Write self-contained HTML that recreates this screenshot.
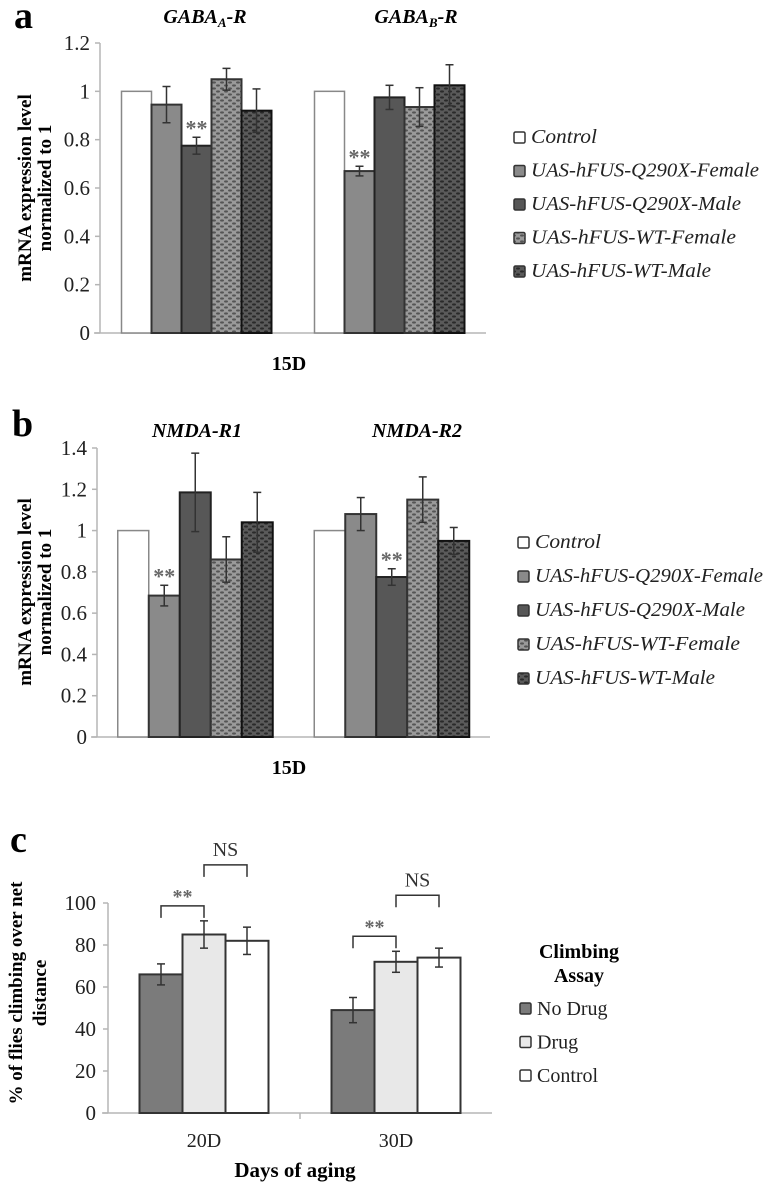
<!DOCTYPE html>
<html><head><meta charset="utf-8">
<style>
html,body{margin:0;padding:0;background:#fff;}
svg{display:block;font-family:"Liberation Serif",serif;}
</style></head>
<body>
<svg id="fig" width="774" height="1186" viewBox="0 0 774 1186" xmlns="http://www.w3.org/2000/svg">
<defs>
<pattern id="dotL" width="8" height="6" patternUnits="userSpaceOnUse">
<rect width="8" height="6" fill="#9a9a9a"/>
<ellipse cx="2" cy="1.5" rx="2" ry="1.1" fill="#555"/>
<ellipse cx="6" cy="4.5" rx="2" ry="1.1" fill="#555"/>
</pattern>
<pattern id="dotD" width="8" height="6" patternUnits="userSpaceOnUse">
<rect width="8" height="6" fill="#5a5a5a"/>
<ellipse cx="2" cy="1.5" rx="2" ry="1.1" fill="#2a2a2a"/>
<ellipse cx="6" cy="4.5" rx="2" ry="1.1" fill="#2a2a2a"/>
</pattern>
</defs>
<g id="layer"></g>
</svg>
<script>
// ---- Panel a data ----
const aCategories = ["GABA_A-R", "GABA_B-R"];
const aControl = [1.0, 1.0];
const aQFemale = [0.945, 0.67];
const aQMale = [0.775, 0.975];
const aWTFemale = [1.05, 0.935];
const aWTMale = [0.92, 1.025];
const aErrControl = [0, 0];
const aErrQFemale = [0.075, 0.02];
const aErrQMale = [0.035, 0.05];
const aErrWTFemale = [0.045, 0.08];
const aErrWTMale = [0.09, 0.085];
const aTicks = ["0", "0.2", "0.4", "0.6", "0.8", "1", "1.2"];
// ---- Panel b data ----
const bCategories = ["NMDA-R1", "NMDA-R2"];
const bControl = [1.0, 1.0];
const bQFemale = [0.685, 1.08];
const bQMale = [1.185, 0.775];
const bWTFemale = [0.86, 1.15];
const bWTMale = [1.04, 0.95];
const bErrControl = [0, 0];
const bErrQFemale = [0.05, 0.08];
const bErrQMale = [0.19, 0.04];
const bErrWTFemale = [0.11, 0.11];
const bErrWTMale = [0.145, 0.065];
const bTicks = ["0", "0.2", "0.4", "0.6", "0.8", "1", "1.2", "1.4"];
// ---- Panel c data ----
const cCategories = ["20D", "30D"];
const cNoDrug = [66, 49];
const cDrug = [85, 72];
const cCtrl = [82, 74];
const cErrNoDrug = [5, 6];
const cErrDrug = [6.5, 5];
const cErrCtrl = [6.5, 4.5];
const cTicks = ["0", "20", "40", "60", "80", "100"];

const NS = "http://www.w3.org/2000/svg";
const layer = document.getElementById("layer");
function mk(tag, attrs, parent) {
  const e = document.createElementNS(NS, tag);
  for (const k in attrs) e.setAttribute(k, attrs[k]);
  (parent || layer).appendChild(e);
  return e;
}
function txt(s, attrs, parent) { const t = mk("text", attrs, parent); t.textContent = s; return t; }

const fills5 = [
  {fill: "#fff", stroke: "#888"},
  {fill: "#8a8a8a", stroke: "#333"},
  {fill: "#575757", stroke: "#222"},
  {fill: "url(#dotL)", stroke: "#333"},
  {fill: "url(#dotD)", stroke: "#111"}
];

function panel5(cfg) {
  const g = mk("g", {});
  
  
  const y = v => cfg.y0 - (v / cfg.vmax) * (cfg.y0 - cfg.yTop);
  // axes
  const ax = mk("line", {x1: cfg.ax, y1: cfg.yTop, x2: cfg.ax, y2: cfg.y0, stroke: "#b5b5b5", "stroke-width": 1.5}, g);
  
  
  const xa = mk("line", {x1: cfg.ax - 6, y1: cfg.y0, x2: cfg.axEnd, y2: cfg.y0, stroke: "#b5b5b5", "stroke-width": 1.5}, g);
  
  
  cfg.ticks.forEach(t => {
    const yy = y(parseFloat(t));
    mk("line", {x1: cfg.ax - 5, y1: yy, x2: cfg.ax, y2: yy, stroke: "#b5b5b5", "stroke-width": 1.5}, g);
    const tl = txt(t, {x: cfg.ax - 10, y: yy + 7, "text-anchor": "end", "font-size": 21, fill: "#222"}, g);
    
    
  });
  const catW = (cfg.axEnd - cfg.ax) / cfg.categories.length;
  cfg.categories.forEach((c, ci) => {
    const center = cfg.ax + catW * (ci + 0.5);
    const start = center - cfg.bw * cfg.series.length / 2;
    cfg.series.forEach((s, si) => {
      const v = s[ci], e = cfg.errs[si][ci];
      const x = start + si * cfg.bw;
      const r = mk("rect", {x: x, y: y(v), width: cfg.bw, height: cfg.y0 - y(v), fill: fills5[si].fill, stroke: fills5[si].stroke, "stroke-width": si === 0 ? 1.5 : 2}, g);
      
      
      if (e > 0) {
        const cx = x + cfg.bw / 2;
        mk("line", {x1: cx, y1: y(v + e), x2: cx, y2: y(v - e), stroke: "#333", "stroke-width": 1.5}, g);
        mk("line", {x1: cx - 4, y1: y(v + e), x2: cx + 4, y2: y(v + e), stroke: "#333", "stroke-width": 1.5}, g);
        mk("line", {x1: cx - 4, y1: y(v - e), x2: cx + 4, y2: y(v - e), stroke: "#333", "stroke-width": 1.5}, g);
        if (cfg.sig[ci] === si) {
          const st = txt("**", {x: cx, y: y(v + e) - 2, "text-anchor": "middle", "font-size": 22, "font-weight": "bold", fill: "#666"}, g);
          
          
        }
      }
    });
  });
}

// Panel a
txt("a", {x: 14, y: 28, "font-size": 38, "font-weight": "bold"});
const ta = mk("text", {x: 205, y: 23, "text-anchor": "middle", "font-size": 20, "font-weight": "bold", "font-style": "italic"});
ta.innerHTML = 'GABA<tspan font-size="13" dy="4">A</tspan><tspan dy="-4">-R</tspan>';

const tb = mk("text", {x: 416, y: 23, "text-anchor": "middle", "font-size": 20, "font-weight": "bold", "font-style": "italic"});
tb.innerHTML = 'GABA<tspan font-size="13" dy="4">B</tspan><tspan dy="-4">-R</tspan>';

panel5({name: "panel-a-chart", ax: 100, axEnd: 486, y0: 333, yTop: 43, vmax: 1.2, bw: 30, ticks: aTicks, categories: aCategories,
  series: [aControl, aQFemale, aQMale, aWTFemale, aWTMale],
  errs: [aErrControl, aErrQFemale, aErrQMale, aErrWTFemale, aErrWTMale],
  seriesNames: ["control", "q290x-female", "q290x-male", "wt-female", "wt-male"], sig: [2, 1]});
const ya = txt("mRNA expression level", {x: 0, y: 0, "text-anchor": "middle", "font-size": 19, "font-weight": "bold", transform: "translate(31,188) rotate(-90)"});

txt("normalized  to 1", {x: 0, y: 0, "text-anchor": "middle", "font-size": 19, "font-weight": "bold", transform: "translate(51,188) rotate(-90)"});
txt("15D", {x: 289, y: 370, "text-anchor": "middle", "font-size": 20, "font-weight": "bold"});

const legNames = ["Control", "UAS-hFUS-Q290X-Female", "UAS-hFUS-Q290X-Male", "UAS-hFUS-WT-Female", "UAS-hFUS-WT-Male"];
const legW = [66, 228, 210, 205, 180];
function legend5(x, y0, dy, name) {
  const g = mk("g", {});
  
  
  legNames.forEach((n, i) => {
    const yy = y0 + i * dy;
    mk("rect", {x: x, y: yy - 11, width: 11, height: 11, fill: fills5[i].fill, stroke: "#333", "stroke-width": 1.5, rx: 1.5}, g);
    const t = txt(n, {x: x + 17, y: yy, "font-size": 20, "font-style": "italic", fill: "#222", textLength: legW[i], lengthAdjust: "spacingAndGlyphs"}, g);
    
    
  });
}
legend5(514, 143, 33.5, "legend-a");

// Panel b
txt("b", {x: 12, y: 436, "font-size": 38, "font-weight": "bold"});
txt("NMDA-R1", {x: 197, y: 437, "text-anchor": "middle", "font-size": 20, "font-weight": "bold", "font-style": "italic"});
txt("NMDA-R2", {x: 417, y: 437, "text-anchor": "middle", "font-size": 20, "font-weight": "bold", "font-style": "italic"});
panel5({name: "panel-b-chart", ax: 97, axEnd: 490, y0: 737, yTop: 448, vmax: 1.4, bw: 31, ticks: bTicks, categories: bCategories,
  series: [bControl, bQFemale, bQMale, bWTFemale, bWTMale],
  errs: [bErrControl, bErrQFemale, bErrQMale, bErrWTFemale, bErrWTMale],
  seriesNames: ["control", "q290x-female", "q290x-male", "wt-female", "wt-male"], sig: [1, 2]});
txt("mRNA expression level", {x: 0, y: 0, "text-anchor": "middle", "font-size": 19, "font-weight": "bold", transform: "translate(31,592) rotate(-90)"});
txt("normalized  to 1", {x: 0, y: 0, "text-anchor": "middle", "font-size": 19, "font-weight": "bold", transform: "translate(51,592) rotate(-90)"});
txt("15D", {x: 289, y: 774, "text-anchor": "middle", "font-size": 20, "font-weight": "bold"});
legend5(518, 548, 34, "legend-b");

// Panel c
txt("c", {x: 10, y: 852, "font-size": 38, "font-weight": "bold"});
(function () {
  const g = mk("g", {});
  
  
  const ax = 108, axEnd = 492, y0 = 1113, yTop = 903, vmax = 100, bw = 43;
  const y = v => y0 - (v / vmax) * (y0 - yTop);
  mk("line", {x1: ax, y1: yTop, x2: ax, y2: y0, stroke: "#b5b5b5", "stroke-width": 1.5}, g);
  mk("line", {x1: ax - 6, y1: y0, x2: axEnd, y2: y0, stroke: "#b5b5b5", "stroke-width": 1.5}, g);
  cTicks.forEach(t => {
    const yy = y(parseFloat(t));
    mk("line", {x1: ax - 5, y1: yy, x2: ax, y2: yy, stroke: "#b5b5b5", "stroke-width": 1.5}, g);
    const tl = txt(t, {x: ax - 12, y: yy + 7, "text-anchor": "end", "font-size": 21, fill: "#222"}, g);
    
  });
  const catW = (axEnd - ax) / cCategories.length;
  const series = [cNoDrug, cDrug, cCtrl], errs = [cErrNoDrug, cErrDrug, cErrCtrl];
  const cf = ["#7b7b7b", "#e8e8e8", "#fff"], names = ["no-drug", "drug", "control"];
  mk("line", {x1: ax + catW, y1: y0, x2: ax + catW, y2: y0 + 6, stroke: "#b5b5b5", "stroke-width": 1.5}, g);
  cCategories.forEach((c, ci) => {
    const center = ax + catW * (ci + 0.5);
    const start = center - bw * 1.5;
    const tops = [];
    series.forEach((s, si) => {
      const v = s[ci], e = errs[si][ci], x = start + si * bw;
      const r = mk("rect", {x: x, y: y(v), width: bw, height: y0 - y(v), fill: cf[si], stroke: "#333", "stroke-width": 2}, g);
      
      
      const cx = x + bw / 2;
      tops.push({cx: cx, top: y(v + e)});
      mk("line", {x1: cx, y1: y(v + e), x2: cx, y2: y(v - e), stroke: "#333", "stroke-width": 1.5}, g);
      mk("line", {x1: cx - 4, y1: y(v + e), x2: cx + 4, y2: y(v + e), stroke: "#333", "stroke-width": 1.5}, g);
      mk("line", {x1: cx - 4, y1: y(v - e), x2: cx + 4, y2: y(v - e), stroke: "#333", "stroke-width": 1.5}, g);
    });
    const b1y = tops[1].top - 15, b2y = tops[1].top - 56;
    mk("path", {d: `M${tops[0].cx},${b1y + 12} V${b1y} H${tops[1].cx} V${b1y + 12}`, fill: "none", stroke: "#333", "stroke-width": 1.5}, g);
    txt("**", {x: (tops[0].cx + tops[1].cx) / 2, y: b1y - 3, "text-anchor": "middle", "font-size": 20, "font-weight": "bold", fill: "#666"}, g);
    mk("path", {d: `M${tops[1].cx},${b2y + 12} V${b2y} H${tops[2].cx} V${b2y + 12}`, fill: "none", stroke: "#333", "stroke-width": 1.5}, g);
    txt("NS", {x: (tops[1].cx + tops[2].cx) / 2, y: b2y - 9, "text-anchor": "middle", "font-size": 20, fill: "#333"}, g);
    txt(c, {x: center, y: 1147, "text-anchor": "middle", "font-size": 20, fill: "#222"}, g);
  });
})();
txt("% of flies climbing  over net", {x: 0, y: 0, "text-anchor": "middle", "font-size": 19, "font-weight": "bold", transform: "translate(22,993) rotate(-90)"});
txt("distance", {x: 0, y: 0, "text-anchor": "middle", "font-size": 19, "font-weight": "bold", transform: "translate(46,993) rotate(-90)"});
txt("Days of aging", {x: 295, y: 1177, "text-anchor": "middle", "font-size": 21, "font-weight": "bold"});
(function () {
  const g = mk("g", {});
  
  
  txt("Climbing", {x: 579, y: 958, "text-anchor": "middle", "font-size": 20, "font-weight": "bold"}, g);
  txt("Assay", {x: 579, y: 982, "text-anchor": "middle", "font-size": 20, "font-weight": "bold"}, g);
  const ln = ["No Drug", "Drug", "Control"], lf = ["#7b7b7b", "#e8e8e8", "#fff"];
  ln.forEach((n, i) => {
    const yy = 1015 + i * 33.5;
    mk("rect", {x: 520, y: yy - 12, width: 11, height: 11, fill: lf[i], stroke: "#333", "stroke-width": 1.5, rx: 1.5}, g);
    const t = txt(n, {x: 537, y: yy, "font-size": 20, fill: "#222"}, g);
    
    
  });
})();
</script>
</body></html>
